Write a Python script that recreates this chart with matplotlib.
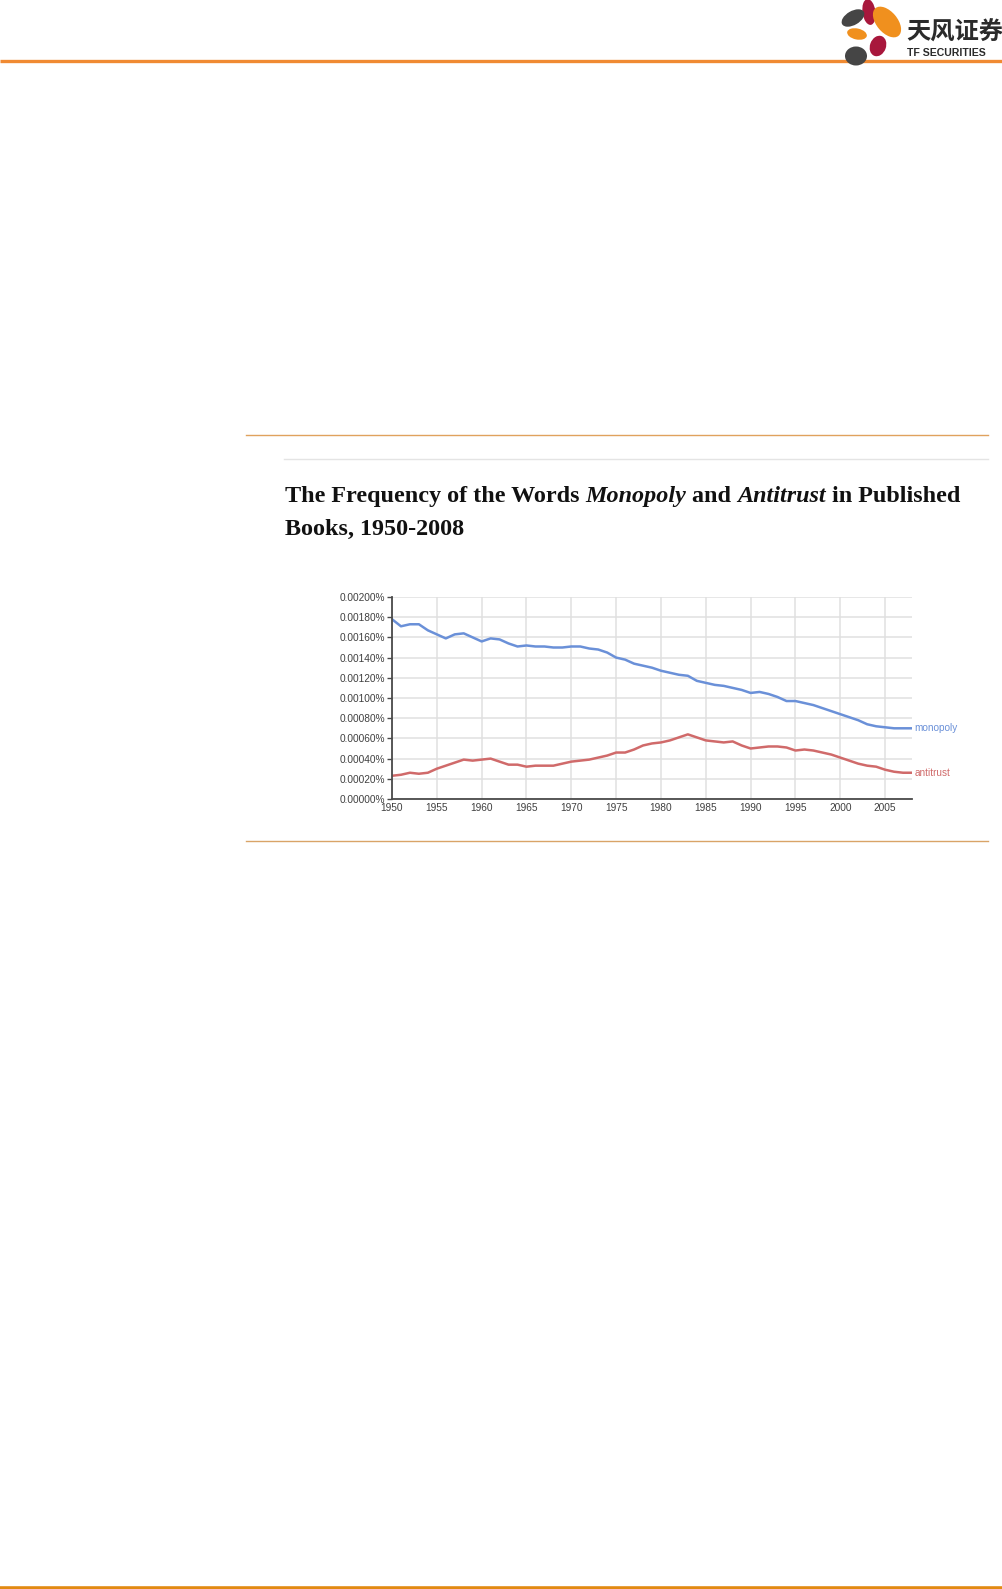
import matplotlib
matplotlib.use("Agg")
import matplotlib.pyplot as plt
from matplotlib.patches import Ellipse
from matplotlib.ticker import FixedLocator, FuncFormatter

# Share of all words in the book corpus, in percent, one value per year
years = list(range(1950, 2009))
monopoly = [
    0.00178, 0.00171, 0.00173, 0.00173, 0.00167, 0.00163, 0.00159, 0.00163, 0.00164, 0.00160,
    0.00156, 0.00159, 0.00158, 0.00154, 0.00151, 0.00152, 0.00151, 0.00151, 0.00150, 0.00150,
    0.00151, 0.00151, 0.00149, 0.00148, 0.00145, 0.00140, 0.00138, 0.00134, 0.00132, 0.00130,
    0.00127, 0.00125, 0.00123, 0.00122, 0.00117, 0.00115, 0.00113, 0.00112, 0.00110, 0.00108,
    0.00105, 0.00106, 0.00104, 0.00101, 0.00097, 0.00097, 0.00095, 0.00093, 0.00090, 0.00087,
    0.00084, 0.00081, 0.00078, 0.00074, 0.00072, 0.00071, 0.00070, 0.00070, 0.00070,
]
antitrust = [
    0.00023, 0.00024, 0.00026, 0.00025, 0.00026, 0.00030, 0.00033, 0.00036, 0.00039, 0.00038,
    0.00039, 0.00040, 0.00037, 0.00034, 0.00034, 0.00032, 0.00033, 0.00033, 0.00033, 0.00035,
    0.00037, 0.00038, 0.00039, 0.00041, 0.00043, 0.00046, 0.00046, 0.00049, 0.00053, 0.00055,
    0.00056, 0.00058, 0.00061, 0.00064, 0.00061, 0.00058, 0.00057, 0.00056, 0.00057, 0.00053,
    0.00050, 0.00051, 0.00052, 0.00052, 0.00051, 0.00048, 0.00049, 0.00048, 0.00046, 0.00044,
    0.00041, 0.00038, 0.00035, 0.00033, 0.00032, 0.00029, 0.00027, 0.00026, 0.00026,
]
series_names = ["monopoly", "antitrust"]
year_ticks = [1950, 1955, 1960, 1965, 1970, 1975, 1980, 1985, 1990, 1995, 2000, 2005]
pct_ticks = [0.0, 0.0002, 0.0004, 0.0006, 0.0008, 0.0010, 0.0012, 0.0014, 0.0016, 0.0018, 0.0020]

title_line1 = [
    ("The Frequency of the Words ", "normal"),
    ("Monopoly", "italic"),
    (" and ", "normal"),
    ("Antitrust", "italic"),
    (" in Published", "normal"),
]
title_line2 = "Books, 1950-2008"

W, H = 1003, 1589
fig = plt.figure(figsize=(W / 100, H / 100), dpi=100)
fig.patch.set_facecolor("white")

# Page overlay in pixel coordinates (origin top-left)
page = fig.add_axes([0, 0, 1, 1])
page.set_xlim(0, W)
page.set_ylim(H, 0)
page.axis("off")

ORANGE = "#f08a32"
# header / footer rules
page.plot([0, W], [60.5, 60.5], color=ORANGE, lw=2.4, solid_capstyle="butt")
page.plot([0, W], [1587.5, 1587.5], color="#e28a12", lw=2.6, solid_capstyle="butt")
# figure frame rules
page.plot([246, 988], [435, 435], color="#e0a25e", lw=1.0)
page.plot([284, 988], [459, 459], color="#e4e4e4", lw=1.0)
page.plot([246, 988], [841, 841], color="#d9a468", lw=1.0)

# logo flower
petals = [
    ((869, 12), 13, 26, -8, "#a8173c"),
    ((887, 22), 21, 36, -40, "#f0901e"),
    ((853, 18), 25, 14, -30, "#454545"),
    ((857, 34), 20, 11, 12, "#f0901e"),
    ((878, 46), 16, 21, 20, "#a8173c"),
    ((856, 56), 22, 19, 0, "#454545"),
]
for (cx, cy), w, h, ang, col in petals:
    page.add_patch(Ellipse((cx, cy), w, h, angle=ang, color=col, lw=0, zorder=3))
page.text(906, 33, "天风证券", family=["Noto Sans CJK SC", "DejaVu Sans"], weight="bold",
          fontsize=17.5, color="#2b2b2b", va="center", ha="left")
page.text(907, 53, "TF SECURITIES", family=["Liberation Sans Narrow", "Liberation Sans"],
          weight="bold", fontsize=7.6, color="#2b2b2b", va="center", ha="left")

# title, drawn piece by piece so the italic words sit inline
fig.canvas.draw()
renderer = fig.canvas.get_renderer()
title_font = dict(family="Liberation Serif", weight="bold", fontsize=17.4, color="#111111")
x = 285
for piece, style in title_line1:
    t = page.text(x, 502, piece, style=style, va="baseline", ha="left", **title_font)
    bb = t.get_window_extent(renderer)
    x += bb.width
page.text(285, 535, title_line2, va="baseline", ha="left", **title_font)

# chart
ax = fig.add_axes([392 / W, 1 - 799 / H, (912 - 392) / W, (799 - 597) / H])
colors = {"monopoly": "#6a90d8", "antitrust": "#d06a6a"}
for name, vals in zip(series_names, [monopoly, antitrust]):
    ax.plot(years, vals, color=colors[name], lw=1.8, solid_joinstyle="round")
    ax.annotate(name, (years[-1], vals[-1]), xytext=(2, 0), textcoords="offset points",
                color=colors[name], fontsize=7.2, family="Liberation Sans",
                va="center", ha="left", annotation_clip=False)

ax.set_xlim(1950, 2008)
ax.set_ylim(0, 0.002)
ax.xaxis.set_major_locator(FixedLocator(year_ticks))
ax.yaxis.set_major_locator(FixedLocator(pct_ticks))
ax.yaxis.set_major_formatter(FuncFormatter(lambda v, _: f"{v:.5f}%"))
ax.grid(True, color="#e0e0e0", lw=1.1)
ax.set_axisbelow(True)
for s in ["top", "right"]:
    ax.spines[s].set_visible(False)
for s in ["left", "bottom"]:
    ax.spines[s].set_color("#4a4a4a")
    ax.spines[s].set_linewidth(1.3)
ax.tick_params(axis="y", length=3.5, width=1.0, color="#4a4a4a", pad=1.5,
               labelsize=7.3, labelcolor="#404040")
ax.tick_params(axis="x", length=0, pad=3, labelsize=7.3, labelcolor="#404040")
for lab in ax.get_xticklabels() + ax.get_yticklabels():
    lab.set_family("Liberation Sans")

fig.savefig("out.png", dpi=100, facecolor="white")
